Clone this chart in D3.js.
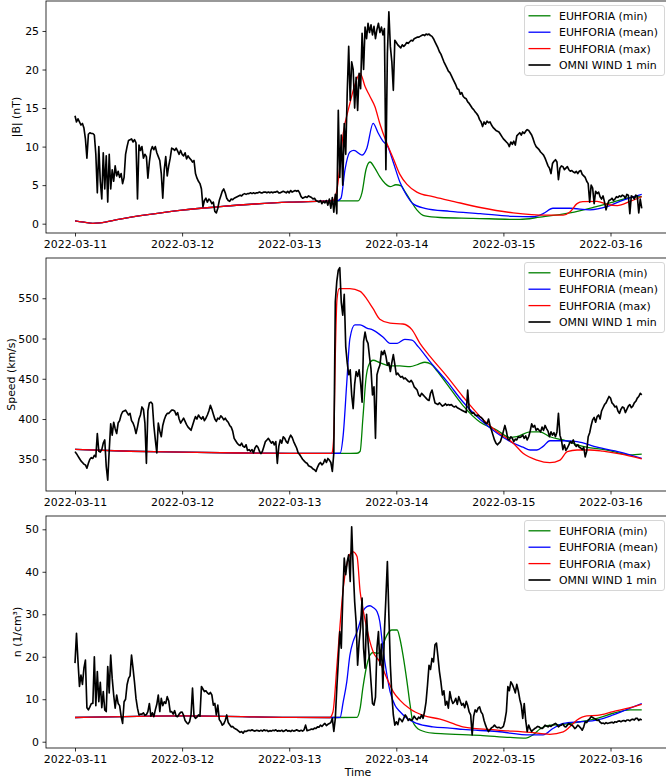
<!DOCTYPE html>
<html>
<head>
<meta charset="utf-8">
<script src="https://cdn.jsdelivr.net/npm/d3@7"></script>
<style>
  body { margin: 0; background: #fff; }
  svg { display: block; }
  text { font-family: "DejaVu Sans", sans-serif; }
</style>
</head>
<body>
<svg id="chart" width="666" height="780"></svg>
<script>
// ---------------------------------------------------------------
// OMNI WIND 1-min data, resampled to 20-minute steps starting
// 2022-03-11 00:00 UTC (three samples per hour).
// ---------------------------------------------------------------
const omniStart = Date.UTC(2022, 2, 11, 0, 0);
const omniStepMinutes = 20;

const omniB = [
  14.0,13.2,13.6, 13.2,12.8,13.0, 12.4,11.0,8.5, 11.6,11.8,11.7, 11.7,11.5,9.0, 4.0,10.0,5.5,
  3.2,9.2,4.5, 8.8,2.8,9.0, 4.5,7.0,5.5, 7.5,6.2,6.8, 6.0,6.5,5.2, 6.0,9.0,10.0,
  10.8,10.9,11.0, 10.6,10.9,10.5, 3.2,10.2,9.5, 10.0,8.5,9.0, 8.7,5.9,8.0, 9.5,10.0,9.6,
  10.0,9.2,8.7, 8.2,6.5,3.3, 7.0,8.7,6.2, 7.5,8.5,9.8, 9.7,9.5,9.8, 9.4,9.0,9.5,
  9.0,8.8,9.2, 8.4,8.8,8.5, 8.3,8.0,8.2, 6.5,5.9,5.5, 5.2,4.5,2.2, 3.0,3.3,2.8,
  3.2,3.0,2.6, 2.8,1.6,1.4, 2.0,3.0,3.6, 4.2,4.5,4.0, 3.3,3.0,2.9, 3.2,3.1,3.3,
  3.4,3.5,3.6, 3.7,3.6,3.8, 3.9,3.8,3.9, 3.9,4.0,3.9, 4.0,3.9,4.0, 4.0,4.1,4.0,
  4.0,4.1,4.1, 4.0,4.1,4.0, 4.1,4.0,4.1, 4.1,4.2,4.0, 4.0,4.1,4.2, 4.1,4.0,4.2,
  4.0,4.3,4.1, 4.2,4.3,4.2, 4.3,4.0,3.5, 3.3,3.4,3.5, 3.4,3.6,3.5, 3.4,3.2,3.3,
  3.0,2.9,2.8, 3.0,2.6,2.9, 2.7,3.0,2.4, 3.2,2.0,3.4, 1.5,3.8,1.3, 14.7,6.0,11.5,
  5.0,13.0,9.0, 17.0,23.0,16.0, 21.0,20.0,15.0, 19.0,14.7,19.5, 17.5,24.7,20.0, 25.5,24.0,26.0,
  24.8,25.8,24.5, 25.6,24.0,25.2, 26.0,24.8,25.5, 24.5,25.3,7.0, 22.0,27.5,23.0, 21.0,17.3,23.8,
  23.5,23.2,23.0, 22.8,23.2,23.0, 23.2,23.5,23.4, 23.6,23.8,23.7, 24.0,24.1,24.2, 24.2,24.3,24.4,
  24.5,24.4,24.6, 24.5,24.6,24.4, 24.3,24.0,23.6, 23.2,22.8,22.3, 22.0,21.5,21.0, 20.6,20.2,19.8,
  19.6,19.2,18.8, 18.4,18.0,17.5, 17.4,16.8,17.0, 16.5,16.3,16.2, 15.8,15.6,15.3, 15.0,14.8,14.5,
  14.3,14.0,13.5, 13.2,12.6,13.2, 12.9,13.3,13.1, 13.2,12.8,12.5, 12.3,12.1,12.0, 11.9,11.6,11.3,
  11.0,10.8,10.6, 10.4,10.0,10.6, 10.3,10.7,10.2, 11.4,11.6,11.8, 11.5,11.9,11.7, 12.0,12.2,12.1,
  11.8,11.5,11.0, 10.4,10.0,9.8, 9.6,9.3,9.1, 8.9,8.5,8.0, 7.5,7.2,6.5, 7.8,8.1,8.3,
  8.0,5.7,7.2, 7.5,7.4,7.0, 7.2,7.4,7.0, 6.8,6.9,6.7, 6.6,6.8,6.5, 6.8,6.9,6.4,
  6.2,6.0,5.5, 5.2,2.8,5.0, 4.6,2.6,4.2, 3.9,4.1,3.5, 3.2,3.6,2.8, 1.8,2.5,3.0,
  3.1,3.3,3.0, 3.2,3.5,3.4, 3.6,3.5,3.7, 3.6,3.3,3.8, 3.7,1.3,3.6, 3.5,3.2,3.7, 3.6,1.4,3.2,
  2.0
];

const omniV = [
  359.5,357,354, 351,348,346, 344,343,339, 345,350,352, 351,355,353, 382,360,359,
  362,370,374, 341,324,361, 394,380,396, 388,382,395, 398,405,409, 410,411,408,
  405,407,398, 395,390,382, 390,400,405, 415,412,395, 345,410,420, 421,419,392,
  374,358,395, 385,378,392, 399,404,407, 407,409,411, 411,410,405, 408,400,395,
  398,401,397, 393,390,388, 386,392,398, 403,400,405, 402,400,403, 398,401,405,
  410,417,412, 406,400,397, 401,400,404, 402,399,401, 398,396,392, 390,385,376,
  373,370,368, 367,370,366, 365,368,361, 362,360,362, 358,364,367, 365,360,357,
  360,366,372, 374,376,373, 370,372,368, 372,345,366, 374,370,378, 376,372,370,
  376,380,377, 372,368,364, 358,356,353, 350,348,346, 345,342,341, 340,338,337,
  335,340,344, 346,343,345, 350,346,351, 349,346,335, 358,546,571, 585,588,545,
  529,555,490, 470,455,461, 430,413,443, 459,453,461, 445,421,496, 508,498,494,
  477,462,430, 440,376,455, 462,467,484, 480,485,478, 467,470,459, 470,480,468,
  455,457,454, 452,453,450, 451,449,447, 446,448,445, 440,438,436, 430,428,432,
  430,428,426, 424,423,432, 436,428,420, 419,418,420, 418,416,417, 419,417,418,
  417,418,416, 415,416,414, 413,412,411, 410,409,408, 436,412,409, 407,408,405,
  404,405,403, 402,400,397, 395,394,400, 392,386,380, 374,370,368, 370,372,378,
  385,392,385, 375,374,378, 376,372,375, 374,378,377, 378,380,376, 379,374,378,
  385,394,390, 392,386,388, 386,384,390, 386,392,388, 385,378,384, 380,383,378,
  384,407,380, 374,362,368, 361,364,368, 372,370,374, 368,366,368, 365,364,362,
  365,353,360, 378,383,392, 399,402,396, 403,405,400, 410,414,418, 420,424,428,
  426,420,418, 415,416,410, 407,412,415, 414,408,412, 416,418,414, 416,420,422, 426,428,432,
  430
];

const omniN = [
  18.5,25.5,19.0, 13.0,15.7,13.5, 17.3,19.2,8.0, 7.5,8.2,9.0, 9.0,20.0,8.5, 16.5,9.4,14.0,
  8.0,11.8,7.5, 7.1,17.7,11.5, 20.4,14.9,11.0, 7.9,11.0,9.0, 8.5,6.0,4.3, 9.4,10.0,13.4,
  14.9,15.5,20.4, 17.3,14.0,10.2, 7.9,6.3,6.5, 6.5,6.8,6.2, 6.4,7.1,9.0, 6.0,6.8,5.9,
  7.5,8.8,11.0, 7.1,10.2,8.5, 9.4,9.0,10.6, 9.6,7.0,7.1, 6.5,7.3,6.0, 5.9,6.5,6.9,
  7.0,6.2,5.0, 4.5,4.2,4.7, 6.3,12.6,6.0, 5.5,5.8,6.3, 6.0,13.0,12.4, 11.8,12.0,11.5,
  11.2,11.6,11.0, 8.6,9.0,6.3, 8.6,5.2,4.7, 3.9,4.2,5.0, 6.3,4.5,4.0, 3.5,3.6,3.2,
  3.0,2.8,2.5, 2.2,2.4,2.0, 2.5,2.4,2.6, 2.7,2.6,2.8, 2.6,2.5,2.7, 2.6,2.5,2.7,
  2.5,2.8,2.6, 2.7,2.4,2.6, 2.5,2.7,2.6, 2.8,2.5,2.6, 2.5,2.7,2.4, 2.6,2.8,2.5,
  2.6,2.4,2.7, 2.5,2.6,2.8, 2.6,2.5,2.7, 2.5,2.8,3.9, 2.6,2.7,2.8, 3.0,2.9,3.2,
  3.1,3.5,3.4, 3.9,3.6,4.0, 4.3,3.8,4.1, 4.3,4.5,5.5, 2.4,5.5,12.6, 18.8,25.9,22.0,
  33.8,43.2,39.3, 42.4,44.0,37.7, 50.6,40.8,33.0, 28.0,18.0,23.5, 27.0,33.8,22.0, 17.3,30.0,23.5,
  19.0,14.0,9.0, 8.6,10.5,22.0, 25.9,18.0,23.0, 12.6,26.0,33.8, 42.4,29.8,18.0, 11.0,6.3,3.9,
  4.7,4.0,5.5, 5.2,4.7,5.5, 6.3,5.8,5.0, 5.4,5.0,5.3, 6.0,5.5,5.2, 5.8,5.5,6.3,
  5.5,7.1,9.4, 13.4,18.0,17.0, 19.6,18.8,22.8, 23.2,20.0,16.5, 14.0,11.0,12.0, 8.6,9.5,7.9,
  11.8,10.0,9.0, 9.4,10.2,8.8, 10.6,9.5,8.6, 9.0,8.0,9.5, 8.5,7.0,6.3, 1.6,6.0,7.5,
  7.0,7.9,8.2, 7.0,6.5,5.0, 3.9,3.0,2.4, 2.8,3.3,3.5, 3.9,3.5,3.3, 3.4,3.2,3.3,
  3.6,5.0,7.1, 13.0,12.0,14.1, 13.5,12.6,11.5, 13.5,12.0,10.0, 8.6,5.5,9.0, 5.0,2.4,3.9,
  3.0,2.4,2.8, 3.1,3.3,3.6, 3.5,3.2,3.1, 3.4,3.9,3.7, 3.5,3.8,3.6, 3.9,4.1,4.3,
  4.0,3.5,3.8, 3.9,4.2,3.6, 3.5,3.9,4.3, 4.0,3.9,3.6, 3.1,3.4,3.9, 3.6,3.2,2.7,
  3.5,4.7,4.5, 5.1,5.4,5.9, 5.7,5.5,5.3, 5.0,5.1,4.6, 4.3,4.4,4.2, 4.5,4.3,4.4,
  4.5,4.6,4.4, 4.7,4.6,4.8, 4.9,4.7,4.9, 5.0,4.8,5.1, 5.1,4.9,5.2, 5.3,5.1,5.5, 5.5,5.0,5.3,
  5.1
];

// ---------------------------------------------------------------
// EUHFORIA ensemble envelopes: [hours since 2022-03-11 00:00 UTC, value]
// ---------------------------------------------------------------
const euhBMin = [
  [0,0.35],[2,0.2],[4,0.05],[5.6,0.1],[10.1,0.6],[16.8,1.2],[24,1.75],[32.5,2.2],[40.3,2.55],
  [48,2.8],[54.2,2.9],[57.4,2.95],[63.4,2.95],[64.3,4.0],[65.2,7.0],[66.1,8.0],[67.2,7.2],
  [68.3,6.1],[69.5,5.2],[70.6,4.8],[71.9,5.05],[73.1,4.9],[73.9,4.2],[75.1,3.1],[76.6,1.8],
  [78.4,1.0],[81.8,0.8],[89.2,0.7],[99.7,0.55],[104.2,0.85],[110.9,1.4],[116.1,2.1],
  [120.6,2.8],[123.7,3.3],[127,3.5]
];
const euhBMean = [
  [0,0.35],[2,0.2],[4,0.05],[5.6,0.1],[10.1,0.6],[16.8,1.2],[24,1.75],[32.5,2.2],[40.3,2.55],
  [48,2.8],[54.2,2.9],[57.4,2.95],[58.7,2.95],[59.6,3.3],[60.5,7.0],[61.6,9.3],[62.5,9.5],
  [64.3,8.9],[65.4,9.8],[66.8,13.0],[67.9,11.8],[69.0,10.7],[70.1,10.0],[71.3,8.0],[72.8,5.4],
  [74.4,3.6],[75.7,2.6],[78.4,2.0],[84,1.6],[90.8,1.3],[98.2,0.95],[102.6,0.9],[104.9,1.3],
  [107.1,2.0],[110.9,2.0],[115.4,1.8],[119.2,2.2],[122.1,2.9],[127,3.8]
];
const euhBMax = [
  [0,0.35],[2,0.2],[4,0.05],[5.6,0.1],[10.1,0.6],[16.8,1.2],[24,1.75],[32.5,2.2],[40.3,2.55],
  [48,2.8],[54.2,2.9],[57.4,2.95],[57.8,3.0],[58.7,4.4],[60.1,11.7],[61.6,15.6],[62.7,18.0],
  [63.9,19.5],[65.0,17.8],[66.1,16.5],[67.2,15.2],[68.3,13.0],[69.9,10.4],[71.3,8.5],[72.8,6.4],
  [74.4,5.1],[76.6,4.1],[80.2,3.5],[84,3.0],[90.8,2.1],[98.2,1.4],[105.8,1.1],[109.4,1.1],
  [110.9,1.5],[112.5,2.6],[113.8,2.85],[117,2.9],[119.2,2.5],[121.5,2.35],[124.4,2.9],[127,3.5]
];

const euhVMin = [
  [0,362.4],[12.3,360],[24,358.8],[37,357.8],[48,357.4],[57.4,357.3],[63.2,357.5],[63.9,360],
  [64.5,400],[65.2,450],[65.9,468],[66.8,473],[68.3,470],[70.6,466],[72.8,466],[75.1,465],
  [76.9,468],[78.4,470.5],[79.8,468],[81.1,460],[83.4,443],[86.9,417],[90.8,396],[94.6,386],
  [97.5,377],[99.0,378],[102.0,384],[104.2,384],[106.4,378],[109.4,374],[113.8,366],
  [119.2,361.5],[124.4,355.5],[127,356.5]
];
const euhVMean = [
  [0,362.4],[12.3,360],[24,358.8],[37,357.8],[48,357.4],[57.4,357.3],[59.4,357.5],[60.1,380],
  [60.9,445],[61.6,500],[62.7,517],[63.9,517],[65.4,513],[66.8,510.5],[69.0,502],[70.6,494],
  [72.2,494],[73.9,499],[75.5,498],[76.9,490],[79.6,471],[83.4,446.4],[86.9,421.5],[90.8,399.5],
  [94.6,382.3],[98.2,370],[100.4,365],[102.0,361.5],[103.5,361.5],[104.9,366],[106.4,373],
  [109.4,373],[112.5,372],[117,365],[122.1,359],[127,351]
];
const euhVMax = [
  [0,362.4],[12.3,360],[24,358.8],[37,357.8],[48,357.4],[57.4,357.3],[57.6,358],[58.0,380],
  [58.3,470],[58.7,548],[59.2,562],[61.6,562],[63.9,558.5],[65.4,549],[66.8,537],[68.3,524],
  [70.6,519],[73.5,518],[75.5,511],[77.3,494],[79.6,477.5],[83.4,452.6],[86.9,428],[90.8,403],
  [94.6,384.3],[98.2,370],[100.4,357.5],[103.5,349],[106.4,345.8],[108.7,349],[110.3,359.4],
  [112.5,361.5],[115.4,361.5],[118.3,360],[122.1,356.6],[127,350.4]
];

const euhNMin = [
  [0,5.7],[24,6.1],[48,5.75],[57.1,5.7],[63.2,5.75],[63.9,7.9],[64.5,12.6],[65.4,18.0],
  [66.1,20.4],[66.8,21.0],[67.7,20.8],[68.3,21.0],[69.0,22.8],[69.9,25.1],[71.0,26.3],
  [72.2,26.3],[72.8,24.3],[73.5,20.4],[74.4,14.1],[75.1,8.6],[75.7,4.7],[77.3,2.75],
  [80.2,2.0],[84,1.8],[90.8,1.5],[97.5,1.0],[101,0.85],[102.6,1.6],[104.2,3.0],[105.8,3.8],
  [109.4,4.1],[113.2,4.7],[117,5.5],[120.6,6.7],[124.4,7.5],[127,7.5]
];
const euhNMean = [
  [0,5.7],[24,6.1],[48,5.75],[57.1,5.7],[59.4,5.75],[60.1,9.4],[60.9,14.1],[61.6,20.4],
  [62.3,23.5],[63.2,25.9],[63.9,28.3],[64.5,30.6],[65.4,31.8],[66.1,32.0],[66.8,31.6],
  [67.7,30.6],[68.3,28.3],[69.0,22.0],[69.9,15.7],[70.6,11.8],[71.7,8.6],[72.8,7.1],
  [74.4,5.5],[76.6,4.3],[80.2,3.5],[84,3.2],[86.9,2.9],[94.6,2.4],[102,1.6],[104.9,1.6],
  [107.1,3.1],[109.4,4.3],[113.2,4.7],[117,5.1],[120.6,6.3],[124.4,7.9],[127,9.0]
];
const euhNMax = [
  [0,5.7],[24,6.1],[48,5.75],[57.1,5.7],[57.8,7.0],[58.7,18.0],[59.4,27.5],[60.1,36.1],
  [60.9,41.6],[61.6,44.1],[62.3,44.7],[63.2,43.6],[63.9,35.3],[64.5,31.4],[65.4,26.7],
  [66.1,23.5],[66.8,21.2],[68.3,18.8],[69.9,14.9],[71.3,11.8],[72.8,9.8],[75.1,7.7],
  [78.0,6.2],[81.8,5.3],[83.4,4.8],[86.9,3.5],[94.6,2.75],[102.0,2.2],[106.4,1.75],
  [109.4,2.3],[110.9,3.5],[112.5,5.1],[114.7,6.1],[117,6.2],[120.6,7.1],[124.4,8.0],[127,8.8]
];

// Axis ticks and labels
const dayTicks = ["2022-03-11","2022-03-12","2022-03-13","2022-03-14","2022-03-15","2022-03-16"];
const bTicks = [0, 5, 10, 15, 20, 25];
const vTicks = [350, 400, 450, 500, 550];
const nTicks = [0, 10, 20, 30, 40, 50];
const seriesNames = ["EUHFORIA (min)", "EUHFORIA (mean)", "EUHFORIA (max)", "OMNI WIND 1 min"];
const seriesColors = ["green", "blue", "red", "black"];

// ---------------------------------------------------------------
const svg = d3.select("#chart");
const plotLeft = 46, plotRight = 670;
const fontSize = 10.9;
const omniWidth = 1.65, euhWidth = 1.3;

const x = d3.scaleUtc()
  .domain([new Date(Date.UTC(2022, 2, 10, 17, 30)), new Date(Date.UTC(2022, 2, 16, 13, 20))])
  .range([plotLeft, plotRight]);

const hourToDate = h => new Date(omniStart + h * 3600e3);
const omniPoints = vals => vals.map((v, i) => ({ t: new Date(omniStart + i * omniStepMinutes * 60e3), v }));
const euhPoints = arr => arr.map(([h, v]) => ({ t: hourToDate(h), v }));

const panels = [
  { top: 1, bottom: 233, domain: [-1.21, 28.89], ticks: bTicks, label: "|B| (nT)", labelX: 20.3,
    euh: [euhBMin, euhBMean, euhBMax], omni: omniB },
  { top: 258, bottom: 491, domain: [310.6, 600.0], ticks: vTicks, label: "Speed (km/s)", labelX: 14.6,
    euh: [euhVMin, euhVMean, euhVMax], omni: omniV },
  { top: 516, bottom: 748, domain: [-1.48, 53.13], ticks: nTicks, label: "n (1/cm\u00B3)", labelX: 21.3,
    euh: [euhNMin, euhNMean, euhNMax], omni: omniN }
];

const parseDay = d3.utcParse("%Y-%m-%d");
const fmtDay = d3.utcFormat("%Y-%m-%d");

panels.forEach((p, pi) => {
  const y = d3.scaleLinear().domain(p.domain).range([p.bottom, p.top]);
  const g = svg.append("g");

  const clipId = "clip" + pi;
  svg.append("clipPath").attr("id", clipId)
    .append("rect").attr("x", plotLeft).attr("y", p.top)
    .attr("width", plotRight - plotLeft).attr("height", p.bottom - p.top);

  const plot = g.append("g").attr("clip-path", `url(#${clipId})`);
  const line = d3.line().x(d => x(d.t)).y(d => y(d.v));
  const smooth = d3.line().x(d => x(d.t)).y(d => y(d.v)).curve(d3.curveMonotoneX);

  p.euh.forEach((arr, i) => {
    plot.append("path").datum(euhPoints(arr))
      .attr("d", smooth).attr("fill", "none")
      .attr("stroke", seriesColors[i]).attr("stroke-width", euhWidth);
  });
  plot.append("path").datum(omniPoints(p.omni))
    .attr("d", line).attr("fill", "none")
    .attr("stroke", "black").attr("stroke-width", omniWidth)
    .attr("stroke-linejoin", "round");

  // frame
  g.append("rect").attr("x", plotLeft).attr("y", p.top)
    .attr("width", plotRight - plotLeft).attr("height", p.bottom - p.top)
    .attr("fill", "none").attr("stroke", "#000").attr("stroke-width", 0.8);

  // x axis
  const xAxis = d3.axisBottom(x)
    .tickValues(dayTicks.map(parseDay))
    .tickFormat(fmtDay)
    .tickSize(3.5).tickPadding(3.5);
  const gx = g.append("g").attr("transform", `translate(0,${p.bottom})`).call(xAxis);
  gx.select(".domain").remove();
  gx.selectAll("line").attr("stroke", "#000").attr("stroke-width", 0.8);
  gx.selectAll("text").attr("font-size", fontSize).attr("font-family", "DejaVu Sans").attr("fill", "#000");

  // y axis
  const yAxis = d3.axisLeft(y).tickValues(p.ticks).tickFormat(d3.format("d"))
    .tickSize(3.5).tickPadding(3.5);
  const gy = g.append("g").attr("transform", `translate(${plotLeft},0)`).call(yAxis);
  gy.select(".domain").remove();
  gy.selectAll("line").attr("stroke", "#000").attr("stroke-width", 0.8);
  gy.selectAll("text").attr("font-size", fontSize).attr("font-family", "DejaVu Sans").attr("fill", "#000");

  // y label
  const cy = (p.top + p.bottom) / 2;
  g.append("text")
    .attr("transform", `translate(${p.labelX},${cy}) rotate(-90)`)
    .attr("text-anchor", "middle").attr("font-size", fontSize).attr("fill", "#000")
    .text(p.label);

  // legend
  const lx = 524.5, ly = p.top + 4.5;
  const lg = g.append("g");
  lg.append("rect").attr("x", lx).attr("y", ly).attr("width", 140).attr("height", 70)
    .attr("rx", 2.5).attr("fill", "white").attr("fill-opacity", 0.8)
    .attr("stroke", "#cccccc").attr("stroke-width", 0.8);
  seriesNames.forEach((name, i) => {
    const yy = ly + 10.3 + i * 16.4;
    lg.append("line").attr("x1", lx + 4).attr("x2", lx + 26).attr("y1", yy).attr("y2", yy)
      .attr("stroke", seriesColors[i]).attr("stroke-width", i === 3 ? omniWidth : euhWidth);
    lg.append("text").attr("x", lx + 34.5).attr("y", yy).attr("dy", "0.36em")
      .attr("font-size", fontSize).attr("fill", "#000").text(name);
  });
});

// shared x label
svg.append("text").attr("x", (plotLeft + plotRight) / 2).attr("y", 776)
  .attr("text-anchor", "middle").attr("font-size", fontSize).attr("fill", "#000")
  .text("Time");
</script>
</body>
</html>
